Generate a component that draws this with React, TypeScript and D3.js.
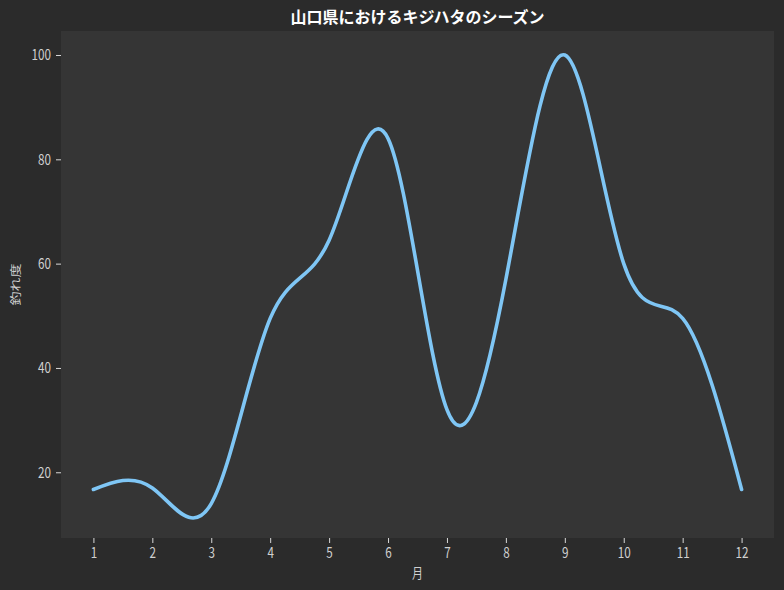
import React, { useEffect, useRef } from 'react';
import * as d3 from 'd3';

const months = [1, 2, 3, 4, 5, 6, 7, 8, 9, 10, 11, 12];
const catchScore = [16.7, 17.0, 14.0, 49.5, 64.5, 84.0, 32.0, 57.0, 100.0, 60.0, 49.5, 16.7];
const yTicks = [20, 40, 60, 80, 100];

const title = '山口県におけるキジハタのシーズン';
const xLabel = '月';
const yLabel = '釣れ度';

const W = 784;
const H = 590;
const margin = { top: 31, right: 10, bottom: 52, left: 61 };
const FONT = '"Noto Sans CJK JP", "Noto Sans", sans-serif';
const SQUEEZE = 0.78; // narrow look of the original tick font

export default function App() {
  const svgRef = useRef<SVGSVGElement>(null);

  useEffect(() => {
    if (!svgRef.current) return;
    const svg = d3.select(svgRef.current);
    svg.selectAll('*').remove();

    const innerW = W - margin.left - margin.right;
    const innerH = H - margin.top - margin.bottom;

    svg.append('rect').attr('width', W).attr('height', H).attr('fill', '#2b2b2b');

    const g = svg.append('g').attr('transform', `translate(${margin.left},${margin.top})`);
    g.append('rect').attr('width', innerW).attr('height', innerH).attr('fill', '#353535');

    // matplotlib-like 5% padding
    const x = d3.scaleLinear().domain([0.45, 12.55]).range([0, innerW]);
    const y = d3.scaleLinear().domain([7.4, 104.6]).range([innerH, 0]);

    const xAxis = g.append('g')
      .attr('transform', `translate(0,${innerH})`)
      .call(d3.axisBottom(x).tickValues(months).tickFormat(d3.format('d')).tickSize(5).tickPadding(4));
    const yAxis = g.append('g')
      .call(d3.axisLeft(y).tickValues(yTicks).tickFormat(d3.format('d')).tickSize(5).tickPadding(5));

    [xAxis, yAxis].forEach(a => {
      a.select('.domain').remove();
      a.selectAll('line').attr('stroke', '#d8d8d8');
      a.selectAll('text')
        .attr('fill', '#d0d0d0')
        .attr('transform', `scale(${SQUEEZE},1)`)
        .style('font-family', FONT)
        .style('font-size', '15px');
    });
    yAxis.selectAll('text').attr('x', -10 / SQUEEZE);

    const line = d3.line<number>()
      .x((_, i) => x(months[i]))
      .y(d => y(d))
      .curve(d3.curveNatural);

    g.append('path')
      .datum(catchScore)
      .attr('d', line)
      .attr('fill', 'none')
      .attr('stroke', '#7fc6f5')
      .attr('stroke-width', 3.6)
      .attr('stroke-linecap', 'round');

    svg.append('text')
      .attr('x', margin.left + innerW / 2)
      .attr('y', 23)
      .attr('text-anchor', 'middle')
      .attr('fill', '#ffffff')
      .style('font-family', FONT)
      .style('font-weight', 'bold')
      .style('font-size', '16px')
      .text(title);

    svg.append('text')
      .attr('transform', `translate(${margin.left + innerW / 2},578) scale(${SQUEEZE},1)`)
      .attr('text-anchor', 'middle')
      .attr('fill', '#d0d0d0')
      .style('font-family', FONT)
      .style('font-size', '14px')
      .text(xLabel);

    svg.append('text')
      .attr('transform', `translate(20,${margin.top + innerH / 2}) rotate(-90) scale(1,${SQUEEZE})`)
      .attr('text-anchor', 'middle')
      .attr('fill', '#d0d0d0')
      .style('font-family', FONT)
      .style('font-size', '14px')
      .text(yLabel);
  }, []);

  return (
    <div style={{ position: 'fixed', left: 0, top: 0 }}>
      <svg ref={svgRef} width={W} height={H} style={{ display: 'block' }} />
    </div>
  );
}
